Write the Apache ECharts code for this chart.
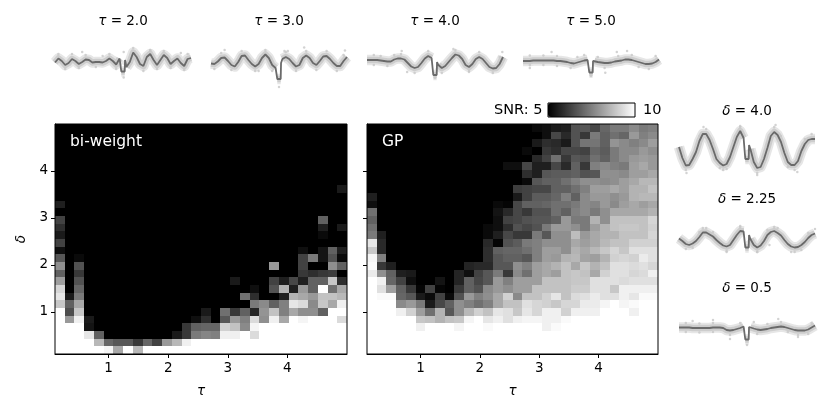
<!DOCTYPE html>
<html>
<head>
<meta charset="utf-8">
<title>SNR grid</title>
<style>
  html, body { margin: 0; padding: 0; background: #fff; }
  #chart { width: 830px; height: 415px; }
</style>
<script src="https://cdn.jsdelivr.net/npm/echarts@6/dist/echarts.min.js"></script>
</head>
<body>
<div id="chart"></div>
<script>
// tick labels of the two big panels
const tauTicks = [1, 2, 3, 4];
const deltaTicks = [1, 2, 3, 4];
const tauRange = [0.1, 5.0];
const deltaRange = [0.1, 5.0];
const snrRange = [5, 10];

// SNR read per cell, first row is the lowest delta
const biweightSnr = [
  [10,10,10,10,10,9.8,8.3,10,8.6,10,10,10,10,10,10,10,10,10,10,10,10,10,10,10,10,10,10,10,10,10],
  [10,10,10,10,8.6,7,6.7,6.7,6.1,7,6.3,8,8.6,9.7,10,10,10,10,10,10,10,10,10,10,10,10,10,10,10,10],
  [10,10,10,9.5,6.9,5,5,5,5,5,5,5,5.5,6.1,7.4,7.6,7.5,9.7,9.7,10,9.3,10,10,10,10,10,10,10,10,10],
  [10,10,10,5.4,5,5,5,5,5,5,5,5,5,6.1,6.9,7,7,9.1,8.8,7.7,9.8,10,10,10,10,10,10,10,10,10],
  [10,8,9.7,5.5,5,5,5,5,5,5,5,5,5,5,5.3,5.9,5,6.7,8,7.5,9.3,7.8,9.7,8.3,10,9.8,10,10,10,9.3],
  [10,6.5,8.9,5,5,5,5,5,5,5,5,5,5,5,5,5.5,5,7.2,6.1,6.9,5.7,7.9,8.8,7.5,8.3,7.8,7.8,6.9,10,10],
  [8.9,6.9,8.3,5,5,5,5,5,5,5,5,5,5,5,5,5,5,5,5,5,7.4,7.7,6.9,7.5,9.5,9.3,7.7,8.9,8.3,9.7],
  [9.5,5.5,7.4,5,5,5,5,5,5,5,5,5,5,5,5,5,5,5,5,7.2,5.9,5,5,5.6,8.5,8.3,8,8.8,8.8,8.6],
  [9.2,5,7,5,5,5,5,5,5,5,5,5,5,5,5,5,5,5,5,5,5.3,5,6.6,8.5,5.6,8,6.9,10,7.2,8.3],
  [8.1,5,6.6,5,5,5,5,5,5,5,5,5,5,5,5,5,5,5,5.5,5,5,5,6.3,5.6,6.4,5.6,6.9,6.9,8.9,5.9],
  [6.9,5,6.1,5,5,5,5,5,5,5,5,5,5,5,5,5,5,5,5,5,5,5,5,5,5,6.1,5.9,6.1,6.2,5],
  [7.8,5,6.6,5,5,5,5,5,5,5,5,5,5,5,5,5,5,5,5,5,5,5,8,5,5,6.3,5,5,7.8,6.9],
  [6.7,5,5.2,5,5,5,5,5,5,5,5,5,5,5,5,5,5,5,5,5,5,5,5,5,5,6.3,7.4,5.4,6.6,5.2],
  [5.3,5,5,5,5,5,5,5,5,5,5,5,5,5,5,5,5,5,5,5,5,5,5,5,5,5.3,5,5.4,6.9,5.6],
  [6.3,5,5,5,5,5,5,5,5,5,5,5,5,5,5,5,5,5,5,5,5,5,5,5,5,5,5,5,5,5],
  [5.5,5,5,5,5,5,5,5,5,5,5,5,5,5,5,5,5,5,5,5,5,5,5,5,5,5,5,5.2,5,5],
  [5.9,5,5,5,5,5,5,5,5,5,5,5,5,5,5,5,5,5,5,5,5,5,5,5,5,5,5,5.6,5,5.5],
  [6.3,5,5,5,5,5,5,5,5,5,5,5,5,5,5,5,5,5,5,5,5,5,5,5,5,5,5,6.9,5,5],
  [5,5,5,5,5,5,5,5,5,5,5,5,5,5,5,5,5,5,5,5,5,5,5,5,5,5,5,5,5,5],
  [5.6,5,5,5,5,5,5,5,5,5,5,5,5,5,5,5,5,5,5,5,5,5,5,5,5,5,5,5,5,5],
  [5,5,5,5,5,5,5,5,5,5,5,5,5,5,5,5,5,5,5,5,5,5,5,5,5,5,5,5,5,5],
  [5,5,5,5,5,5,5,5,5,5,5,5,5,5,5,5,5,5,5,5,5,5,5,5,5,5,5,5,5,5.5],
  [5,5,5,5,5,5,5,5,5,5,5,5,5,5,5,5,5,5,5,5,5,5,5,5,5,5,5,5,5,5],
  [5,5,5,5,5,5,5,5,5,5,5,5,5,5,5,5,5,5,5,5,5,5,5,5,5,5,5,5,5,5],
  [5,5,5,5,5,5,5,5,5,5,5,5,5,5,5,5,5,5,5,5,5,5,5,5,5,5,5,5,5,5],
  [5,5,5,5,5,5,5,5,5,5,5,5,5,5,5,5,5,5,5,5,5,5,5,5,5,5,5,5,5,5],
  [5,5,5,5,5,5,5,5,5,5,5,5,5,5,5,5,5,5,5,5,5,5,5,5,5,5,5,5,5,5],
  [5,5,5,5,5,5,5,5,5,5,5,5,5,5,5,5,5,5,5,5,5,5,5,5,5,5,5,5,5,5],
  [5,5,5,5,5,5,5,5,5,5,5,5,5,5,5,5,5,5,5,5,5,5,5,5,5,5,5,5,5,5],
  [5,5,5,5,5,5,5,5,5,5,5,5,5,5,5,5,5,5,5,5,5,5,5,5,5,5,5,5,5,5]
];

const gpSnr = [
  [10,10,10,10,10,10,10,10,10,10,10,10,10,10,10,10,10,10,10,10,10,10,10,10,10,10,10,10,10,10],
  [10,10,10,10,10,10,10,10,10,10,10,10,10,10,10,10,10,10,10,10,10,10,10,10,10,10,10,10,10,10],
  [10,10,10,10,10,10,10,10,10,10,10,10,10,10,10,10,10,10,10,10,10,10,10,10,10,10,10,10,10,10],
  [10,10,10,10,10,9.7,10,10,10,9.8,10,10,9.9,10,10,10,10,10,9.7,9.9,10,10,10,10,10,10,10,10,10,10],
  [10,10,10,10,10,8.9,8.8,8.5,8.8,8.9,9.8,10,9.5,9.7,9.4,9.7,9.8,9.8,9.7,9.7,9.9,10,10,10,10,10,10,10,10,10],
  [10,10,10,9.7,9.1,8.1,7.2,8.5,6.7,7.8,8.6,9.1,8.8,9.5,9.4,8.9,9.5,9.2,9.7,9.7,9.1,9.7,9.7,9.7,10,10,10,9.7,10,10],
  [10,10,10,7.7,8,7.4,5.5,6.4,6.9,7.8,7.5,7.2,7.5,8.3,8.8,8.8,9.4,9.2,9.1,8.9,9.2,9.2,9.6,9.6,9.8,10,9.8,9.9,10,10],
  [10,9.9,9.9,7,6.7,5.5,5.2,6.3,5.2,6.6,8,7.5,7.8,8.3,9.1,7.7,8.8,8.8,9.1,9.5,8.8,9.3,9.4,9.6,9.4,9.4,9.7,9.5,9.9,9.9],
  [10,9.4,8.1,6.9,6.1,5.1,6.3,5.1,5,6.1,6.9,6.6,7.7,8,7.8,8.1,8.1,8.8,8.8,8.8,8.8,9,9,9.4,9.4,8.9,9.7,9.7,9.7,9.7],
  [10,9.7,7,6.3,5.3,5,5,5.4,5,5.7,6.9,6.4,6.7,8,7.5,8.1,8.1,8.1,8.8,8.8,8.8,8.9,8.9,9.4,9.4,9.4,9.3,9.4,9.4,9.4],
  [9.6,7.8,6.9,5.6,5.5,5,5,5,5,5.7,5.3,6.3,6.7,7.4,6.1,7.7,7.2,8.1,8.3,8.1,8.8,8.9,8.8,8.3,9.1,9.4,9.4,9.2,9.3,9.7],
  [9.9,6.1,5.6,5,5,5,5,5,5,5,5.7,5.8,5.8,6.7,6.7,7.8,7.5,8.1,8.3,8.5,8.8,8.3,8.9,8.5,8.8,9.4,9.4,9.3,9.4,9.2],
  [9.8,7.5,5,5,5,5,5,5,5,5,5,5,5.9,6.7,6.9,6.9,6.7,7.5,8.1,8,8.5,8.6,8.2,8.1,8.5,9.1,9.2,9.1,9.6,9.4],
  [8.9,5.8,5,5,5,5,5,5,5,5,5,5,5.9,6.9,7,7,7.2,7.5,8.1,8.1,7.8,8.5,8.3,8.6,8.9,9.2,8.9,9.4,9.4,9.4],
  [9.5,5.8,5,5,5,5,5,5,5,5,5,5,5.8,5.1,6.6,6.8,7.4,7.5,7.8,7.8,7.8,8.3,8.1,8.3,8.6,8.8,8.8,9.1,9.1,9.1],
  [7.4,5.6,5,5,5,5,5,5,5,5,5,5,5.2,5.6,6.4,6.1,6.1,7.4,6.7,7.8,7.8,8.7,8,8.3,8.5,8.5,8.8,8.8,8.8,9.2],
  [7.2,5,5,5,5,5,5,5,5,5,5,5,5.2,5.3,5.9,6.6,6.4,6.6,7.4,8,8,7.8,7.4,8.1,8.5,8.8,8.9,8.9,8.8,9.1],
  [6.9,5,5,5,5,5,5,5,5,5,5,5,5,5.3,6.3,6.4,6.6,6.7,6.7,6.9,8,7.4,7.4,8.5,7.8,8.8,8.8,8.8,8.8,9.2],
  [7.2,5,5,5,5,5,5,5,5,5,5,5,5,5.4,5.8,6.4,6.1,6.6,6.6,7.2,6.9,7.5,7.7,7.4,7.8,8.3,8.3,8.3,8.3,8.5],
  [5.3,5,5,5,5,5,5,5,5,5,5,5,5,5.2,5.1,6.4,6.9,6.9,7,7.2,7.2,7.4,7.7,7.6,8,7.7,8.1,8.3,8.1,8.3],
  [5.6,5,5,5,5,5,5,5,5,5,5,5,5,5,5,5.5,6.3,6.8,6.8,7,7.5,6.9,7.7,8,8,7.8,8,8.5,8.6,8.6],
  [5,5,5,5,5,5,5,5,5,5,5,5,5,5,5,6.2,6.3,6.4,6.4,6.9,6.9,7.2,7.5,8.1,8.1,8.3,8.1,8.5,8.5,8.8],
  [5,5,5,5,5,5,5,5,5,5,5,5,5,5,5,5,5.2,6.7,6.9,6.9,7.2,7.5,7.8,7.8,7.7,7.8,8.1,8.3,8.6,8.6],
  [5,5,5,5,5,5,5,5,5,5,5,5,5,5,5,5,5.9,5.6,6.7,6.8,6.8,6.9,6.6,6.7,7.8,7.8,7.7,8.1,8.1,8.3],
  [5,5,5,5,5,5,5,5,5,5,5,5,5,5,5.3,5.3,6.4,5.6,5.6,6.4,5.8,6.9,6.1,7.5,7.7,7.5,7.4,8.1,8.3,8],
  [5,5,5,5,5,5,5,5,5,5,5,5,5,5,5,5,5,5.8,6.3,7.2,6.1,6.7,6.6,7.2,6.9,7.4,7.7,8,8.1,8],
  [5,5,5,5,5,5,5,5,5,5,5,5,5,5,5,5,5.2,5,6.1,5.9,6.4,6.4,6.3,7,6.8,7.4,7.7,7.7,8,7.8],
  [5,5,5,5,5,5,5,5,5,5,5,5,5,5,5,5,5,5.5,5.9,5.8,5.5,6.6,7.3,7.3,6.9,7.9,7.7,7.5,7.7,8.1],
  [5,5,5,5,5,5,5,5,5,5,5,5,5,5,5,5,5,5,5.3,6.4,5.8,6.6,6.1,7.4,6.9,7.2,7,8,7.5,7.7],
  [5,5,5,5,5,5,5,5,5,5,5,5,5,5,5,5,5,5.2,5.3,5.5,5.6,6.6,6.7,6.4,7,7.4,7.4,7.7,7.4,7.5]
];

// light curves: time samples, with the box edges around t = 0
const timeGrid = [-10,-9.5,-9,-8.5,-8,-7.5,-7,-6.5,-6,-5.5,-5,-4.5,-4,-3.5,-3,-2.5,-2,-1.5,-1,-0.5,-0.3,-0.25,0.25,0.3,0.5,1,1.5,2,2.5,3,3.5,4,4.5,5,5.5,6,6.5,7,7.5,8,8.5,9,9.5,10];
const tau2Flux = [-2.5,1.5,-1,-5,-3,1,-1,-4,-2,0.5,0,-2.5,-2,-2,-2.5,-1,1.5,-1,-4.5,1.5,1.5,-11.5,-11.5,0,-7,-2,7.5,3,-4,-6,3,6,0,-5,0,5,2,-4,-1,1.5,-3,-6,1,2];
const tau3Flux = [-3.5,-4,-1.5,2,2.5,-1,-5,-6.5,-2,4,4.5,0,-4,-6.5,-4,2,5.5,2,-5,-8,-9,-19,-19,-3,1,3,1,-3,-6.5,-5,2,4.5,2,-3,-5,-1,3.5,4,1,-3,-6,-6,-1,3];
const tau4Flux = [0,0,0,0,-0.5,-1,-1.5,-1.5,0.5,1.5,1.5,0.5,-3,-6.5,-8,-7,-3,1.5,4,2,0,-15,-15,-2,-5,-8,-6,-2,2,5.5,4.5,1,-5,-7,-4,1,3,1,-3,-7,-8.5,-8,-4,3];
const tau5Flux = [-1,-1,-1,-0.5,-0.5,-0.5,-0.5,-0.5,-0.5,-0.5,-1,-1,-1.5,-2,-3,-3.5,-2.5,-1.5,-0.5,0,0,-12.5,-12.5,-1,-1,-2,-2.5,-3,-3,-2.5,-1.5,-1,-0.5,0.5,0.5,0,-1,-2,-3,-4,-4,-3.5,-2,0.5];
const delta4Flux = [3,-8,-15.5,-15,-9,-2,9,16,16,10,1,-9,-13,-15.5,-14,-7,3,13,19,12,10,-9,-9,5,1,-12,-18,-17,-9,2,14,18,15,8,-3,-12,-15,-15,-11,-1,6,10,11,11];
const delta225Flux = [1.5,-1,-4,-5,-3.5,-1,3,7.5,7.5,5.5,3.5,0,-3,-5.5,-6.5,-5,0,5,9,8.5,7.5,-7.5,-7.5,5,1,-5,-7.5,-5.5,-1,5,8,9,7,4.5,0,-4,-6.5,-7.5,-7,-5,-2,2,5,6.5];
const delta05Flux = [0.5,0.5,0.5,0.5,0,0,0,0,0,0,0.5,0.5,0.5,0,-2,-2.5,-2,-1,0,1.5,2,-11.5,-11.5,1,0.5,-0.5,-1.5,-2,-1.5,-1,0,0.5,1,1.5,1,0,-1,-2,-2.5,-2.5,-2.5,-1.5,0.5,2.5];

// stray samples around the grey band
const tau2Stray = [[0.1,8],[0.1,-17.5],[-6,8],[4,9.5],[8.5,7],[-9.5,6],[-8.5,-9],[-7.5,6],[-6.5,-8],[-5.5,5],[-4,-7],[-3,4],[-2,6],[-1,-9],[1.5,12],[3,-11],[4,10],[5,-9],[6,9],[7,-8],[9,-10],[9.5,6]];
const tau3Stray = [[-8,10],[0,-27],[0.8,9],[1.3,9],[3.7,12.5],[9.7,9.5],[-3,-11],[-9.5,-9],[-8.5,7],[-7,-10],[-5.5,9],[-3.5,-11],[-2,10],[-1,-11],[2.5,-11],[4,9],[5.5,-10],[7,9],[8.5,-11],[9.5,5],[1,8]];
const tau4Stray = [[-4.9,9],[2.7,11],[9.9,8],[0,-18],[-4.1,-12],[5,-11],[-9,5],[-9,-5],[-7,-6],[-6,5],[-3,-13],[-1,9],[1,-13],[3,10],[5,-12],[6.5,8],[8.5,-13],[9.5,3],[-8,4],[-5,6]];
const tau5Stray = [[-5.8,8],[5.3,9],[0,-16],[2.1,-12.7],[3.8,8],[-9,-8],[-9,4.5],[-9,-5],[-7,4.5],[-7,-5],[-5,4],[-5,-6],[-3,-8],[-2,3],[1,3],[2,-8],[4,4],[6,5],[7,-7],[8.5,-9],[9.5,4],[-1,5]];
const delta4Stray = [[-6.4,23],[-1,23],[4.2,25],[7.4,-22],[-8.9,-23],[1.5,-25],[-3.5,-20],[-9,-20],[-7,14],[-6,21],[-5,7],[-4,-18],[-3,-19],[-2,9],[-1,24],[1.5,-23],[3,7],[4,23],[5,14],[6,-17],[7,-20],[8.5,11],[9.5,16]];
const delta225Stray = [[-6,12],[-1,13],[4,13],[6.5,-12],[1.5,-12],[-3,-12],[3.3,-5],[-9,-9],[-8,-8],[-6.5,12],[-5,8],[-3,-11],[-1,14],[1.5,-12],[3,10],[4.5,12],[7,-12],[8,-10],[9,7],[10,11],[-7,8]];
const delta05Stray = [[0,-17],[-2.5,-11],[4.6,9],[-5,8],[7.5,-9],[-8,7],[1,6],[-9,5],[-9,-4],[-7,4.5],[-7,-4.5],[-5,5],[-5,-4],[-2.5,-7],[-1,5],[1.5,-6],[3,4],[5,6],[6,-4],[7.5,-7],[9,-6],[9.5,5]];

const cellCount = 30;
const axisColor = "#000";
const fontName = "DejaVu Sans";
const tickSize = 13.5;

// where the small panels sit on the page
const curvePanels = [
  { title: "τ", value: " = 2.0", flux: tau2Flux, stray: tau2Stray, left: 55, mid: 60, titleTop: 14 },
  { title: "τ", value: " = 3.0", flux: tau3Flux, stray: tau3Stray, left: 211, mid: 60, titleTop: 14 },
  { title: "τ", value: " = 4.0", flux: tau4Flux, stray: tau4Stray, left: 367, mid: 60, titleTop: 14 },
  { title: "τ", value: " = 5.0", flux: tau5Flux, stray: tau5Stray, left: 523, mid: 60, titleTop: 14 },
  { title: "δ", value: " = 4.0", flux: delta4Flux, stray: delta4Stray, left: 679, mid: 150, titleTop: 104 },
  { title: "δ", value: " = 2.25", flux: delta225Flux, stray: delta225Stray, left: 679, mid: 240, titleTop: 192 },
  { title: "δ", value: " = 0.5", flux: delta05Flux, stray: delta05Stray, left: 679, mid: 328, titleTop: 281 }
];

const grids = [
  { left: 55, top: 124, width: 292, height: 230 },
  { left: 367, top: 124, width: 291, height: 230 }
];
const xAxes = [];
const yAxes = [];
const seriesList = [];
const titles = [];

// one cell of the map, sized through the axes and snapped to whole pixels
function renderCell(params, api) {
  const w = (tauRange[1] - tauRange[0]) / cellCount;
  const h = (deltaRange[1] - deltaRange[0]) / cellCount;
  const a = api.coord([api.value(0) - w / 2, api.value(1) + h / 2]);
  const b = api.coord([api.value(0) + w / 2, api.value(1) - h / 2]);
  const x0 = Math.round(a[0]);
  const y0 = Math.round(a[1]);
  return {
    type: "rect",
    shape: { x: x0, y: y0, width: Math.round(b[0]) - x0, height: Math.round(b[1]) - y0 },
    style: { fill: api.visual("color") }
  };
}

function cellsFrom(rows) {
  const cells = [];
  const w = (tauRange[1] - tauRange[0]) / cellCount;
  const h = (deltaRange[1] - deltaRange[0]) / cellCount;
  rows.forEach(function (row, r) {
    row.forEach(function (snr, c) {
      cells.push([tauRange[0] + (c + 0.5) * w, deltaRange[0] + (r + 0.5) * h, snr]);
    });
  });
  return cells;
}

[biweightSnr, gpSnr].forEach(function (rows, i) {
  xAxes.push({
    type: "value", gridIndex: i, min: tauRange[0], max: tauRange[1],
    name: "τ", nameLocation: "middle", nameGap: 30,
    nameTextStyle: { fontFamily: fontName, fontSize: tickSize, fontStyle: "italic", color: axisColor },
    axisLine: { show: true, onZero: false, lineStyle: { color: axisColor, width: 1 } },
    axisTick: { show: true, length: 4, customValues: tauTicks, lineStyle: { color: axisColor, width: 1 } },
    axisLabel: { show: true, customValues: tauTicks, margin: 7, fontFamily: fontName, fontSize: tickSize, color: axisColor },
    splitLine: { show: false }
  });
  yAxes.push({
    type: "value", gridIndex: i, min: deltaRange[0], max: deltaRange[1],
    name: i === 0 ? "δ" : "", nameLocation: "middle", nameGap: 27,
    nameTextStyle: { fontFamily: fontName, fontSize: tickSize, fontStyle: "italic", color: axisColor },
    axisLine: { show: true, onZero: false, lineStyle: { color: axisColor, width: 1 } },
    axisTick: { show: true, length: 4, customValues: deltaTicks, lineStyle: { color: axisColor, width: 1 } },
    axisLabel: { show: i === 0, customValues: deltaTicks, margin: 7, fontFamily: fontName, fontSize: tickSize, color: axisColor },
    splitLine: { show: false }
  });
  seriesList.push({
    type: "custom", xAxisIndex: i, yAxisIndex: i, coordinateSystem: "cartesian2d",
    renderItem: renderCell, data: cellsFrom(rows), encode: { x: 0, y: 1 }, silent: true
  });
});

const mapSeriesIndexes = [0, 1];

curvePanels.forEach(function (panel, p) {
  const i = p + 2;
  const halfHeight = 30;
  grids.push({ left: panel.left, top: panel.mid - halfHeight, width: 136, height: halfHeight * 2 });
  xAxes.push({ type: "value", gridIndex: i, min: -10, max: 10, show: false });
  yAxes.push({ type: "value", gridIndex: i, min: -halfHeight, max: halfHeight, show: false });
  // the band breaks at the box edges so the gap above the dip stays white
  const bandData = timeGrid.map(function (t, k) {
    return [t, (k === 20 || k === 23) ? null : panel.flux[k]];
  });
  const lineData = timeGrid.map(function (t, k) { return [t, panel.flux[k]]; });
  seriesList.push({
    type: "line", xAxisIndex: i, yAxisIndex: i, data: bandData, showSymbol: false, silent: true,
    connectNulls: false, clip: false, lineStyle: { color: "#e6e6e6", width: 10.5, cap: "butt", join: "round" }, z: 2
  });
  seriesList.push({
    type: "line", xAxisIndex: i, yAxisIndex: i, data: bandData, showSymbol: false, silent: true,
    connectNulls: false, clip: false, lineStyle: { color: "#cdcdcd", width: 6.5, cap: "butt", join: "round" }, z: 3
  });
  seriesList.push({
    type: "scatter", xAxisIndex: i, yAxisIndex: i, data: panel.stray, symbolSize: 2.5, silent: true,
    clip: false, itemStyle: { color: "#c8c8c8" }, z: 3
  });
  seriesList.push({
    type: "line", xAxisIndex: i, yAxisIndex: i, data: lineData, showSymbol: false, silent: true,
    clip: false, lineStyle: { color: "#6a6a6a", width: 1.8 }, z: 4
  });
  titles.push({
    text: "{i|" + panel.title + "}{n|" + panel.value + "}",
    left: panel.left + 68, top: panel.titleTop, textAlign: "center", padding: 0,
    textStyle: {
      fontWeight: "normal",
      rich: {
        i: { fontFamily: fontName, fontSize: 13.5, fontStyle: "italic", fontWeight: "normal", color: axisColor },
        n: { fontFamily: fontName, fontSize: 13.5, fontWeight: "normal", color: axisColor }
      }
    }
  });
});

// panel names and the colour bar labels
titles.push({ text: "bi-weight", left: 70, top: 134, padding: 0, textStyle: { fontFamily: fontName, fontSize: 15.5, fontWeight: "normal", color: "#fff" } });
titles.push({ text: "GP", left: 382, top: 134, padding: 0, textStyle: { fontFamily: fontName, fontSize: 15.5, fontWeight: "normal", color: "#fff" } });
titles.push({ text: "SNR: 5", left: 494, top: 103, padding: 0, textStyle: { fontFamily: fontName, fontSize: 14.5, fontWeight: "normal", color: axisColor } });
titles.push({ text: "10", left: 643, top: 103, padding: 0, textStyle: { fontFamily: fontName, fontSize: 14.5, fontWeight: "normal", color: axisColor } });

const chart = echarts.init(document.getElementById("chart"));
chart.setOption({
  animation: false,
  backgroundColor: "#fff",
  title: titles,
  grid: grids,
  xAxis: xAxes,
  yAxis: yAxes,
  visualMap: {
    type: "continuous", min: snrRange[0], max: snrRange[1], seriesIndex: mapSeriesIndexes, dimension: 2,
    orient: "horizontal", left: 548, top: 103, padding: 0, itemWidth: 14, itemHeight: 87,
    calculable: false, showLabel: false, text: ["", ""], inRange: { color: ["#000", "#fff"] }
  },
  // frames around the maps and the colour bar
  graphic: [
    { type: "rect", z: 100, silent: true, shape: { x: 55, y: 124, width: 292, height: 230 }, style: { fill: "none", stroke: axisColor, lineWidth: 1 } },
    { type: "rect", z: 100, silent: true, shape: { x: 367, y: 124, width: 291, height: 230 }, style: { fill: "none", stroke: axisColor, lineWidth: 1 } },
    { type: "rect", z: 100, silent: true, shape: { x: 548, y: 103, width: 87, height: 14 }, style: { fill: "none", stroke: axisColor, lineWidth: 1 } }
  ],
  series: seriesList
});
</script>
</body>
</html>
